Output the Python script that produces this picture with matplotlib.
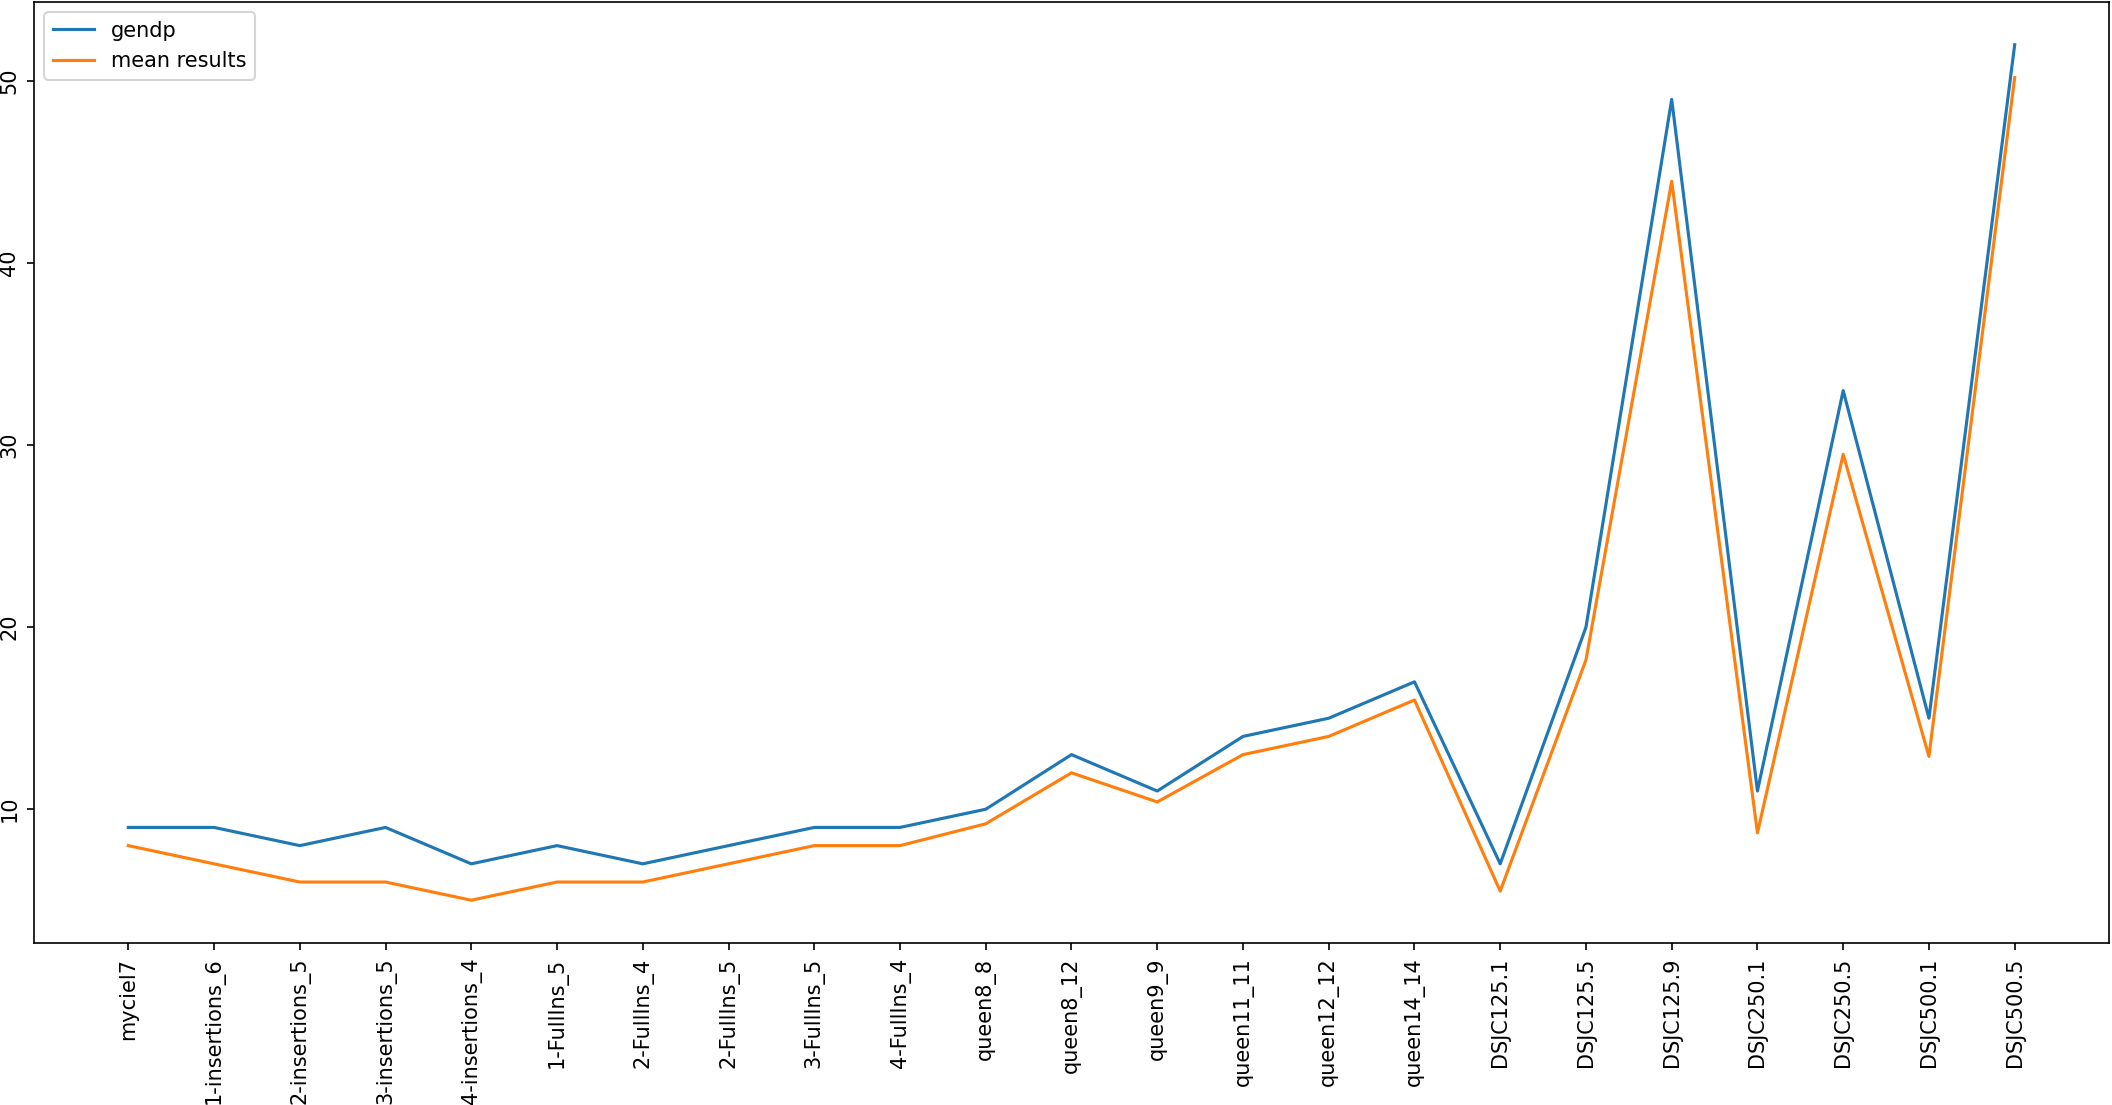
import matplotlib
matplotlib.use("Agg")
import matplotlib.pyplot as plt
import numpy as np

instances = ["myciel7", "1-insertions_6", "2-insertions_5", "3-insertions_5", "4-insertions_4",
             "1-FullIns_5", "2-FullIns_4", "2-FullIns_5", "3-FullIns_5", "4-FullIns_4",
             "queen8_8", "queen8_12", "queen9_9", "queen11_11", "queen12_12", "queen14_14",
             "DSJC125.1", "DSJC125.5", "DSJC125.9", "DSJC250.1", "DSJC250.5", "DSJC500.1", "DSJC500.5"]
gendp = [9, 9, 8, 9, 7, 8, 7, 8, 9, 9, 10, 13, 11, 14, 15, 17, 7, 20, 49, 11, 33, 15, 52]
mean_results = [8, 7, 6, 6, 5, 6, 6, 7, 8, 8, 9.2, 12, 10.4, 13, 14, 16, 5.5, 18.2, 44.5, 8.7, 29.5, 12.9, 50.2]

fig = plt.figure(figsize=(2112 / 150, 1105 / 150), dpi=150)
ax = fig.add_axes([34 / 2112, 1 - 943 / 1105, (2109 - 34) / 2112, (943 - 2) / 1105])
ax.plot(instances, gendp, label="gendp")
ax.plot(instances, mean_results, label="mean results")
ax.tick_params(axis="x", labelrotation=90)
plt.setp(ax.get_yticklabels(), rotation=90, va="center")
ax.legend(loc="upper left")
fig.savefig("out.png", dpi=150)
